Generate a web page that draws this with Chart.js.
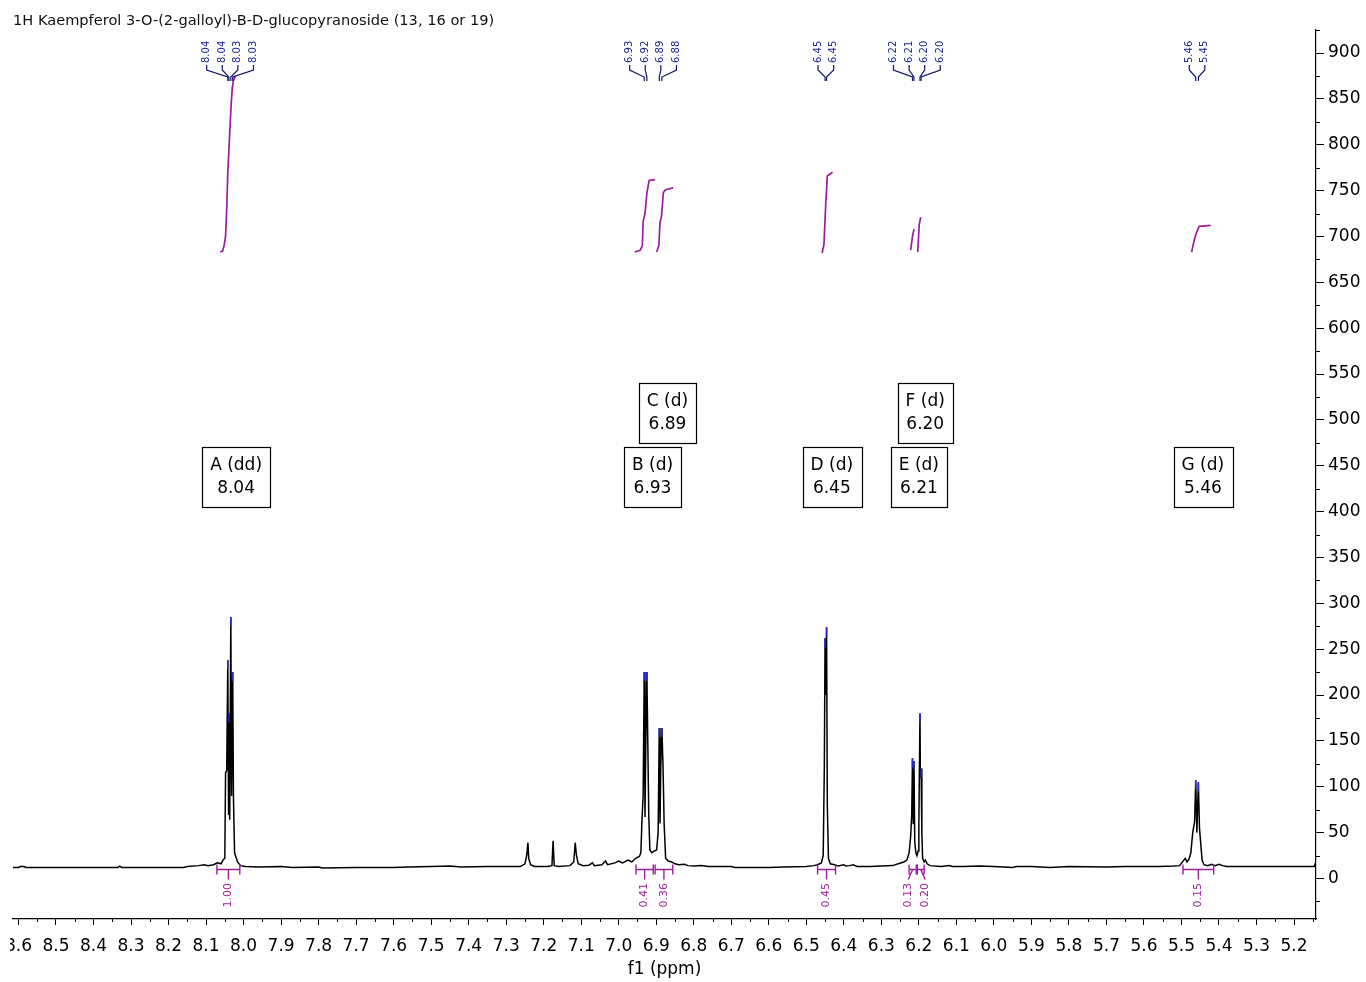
<!DOCTYPE html>
<html>
<head>
<meta charset="utf-8">
<title>1H Kaempferol 3-O-(2-galloyl)-B-D-glucopyranoside</title>
<script src="https://cdn.jsdelivr.net/npm/chart.js@4.4.1/dist/chart.umd.min.js"></script>
<style>
  html, body { margin: 0; padding: 0; background: #fff; }
  #wrap { position: absolute; left: 10px; top: 0; width: 1356px; height: 982px; overflow: hidden; }
  #nmr { position: absolute; left: -10px; top: 0; }
</style>
</head>
<body>
<div id="wrap"><canvas id="nmr" width="1366" height="982"></canvas></div>
<script>
const FONT = "'DejaVu Sans', Verdana, sans-serif"
const TITLE = "1H Kaempferol 3-O-(2-galloyl)-B-D-glucopyranoside (13, 16 or 19)"

// spectrum trace (ppm, intensity)
const specPpm = [
  8.615, 8.600, 8.595, 8.585, 8.580, 8.335, 8.330, 8.325, 8.160, 8.150,
  8.120, 8.105, 8.095, 8.080, 8.070, 8.060, 8.055, 8.050, 8.048, 8.045,
  8.042, 8.040, 8.039, 8.037, 8.034, 8.032, 8.029, 8.027, 8.024, 8.016,
  8.008, 7.995, 7.960, 7.900, 7.870, 7.800, 7.790, 7.700, 7.600, 7.560,
  7.500, 7.450, 7.420, 7.350, 7.300, 7.262, 7.250, 7.245, 7.242, 7.240,
  7.235, 7.225, 7.190, 7.178, 7.175, 7.172, 7.160, 7.130, 7.120, 7.116,
  7.113, 7.108, 7.095, 7.080, 7.070, 7.065, 7.045, 7.035, 7.030, 7.010,
  7.000, 6.990, 6.975, 6.965, 6.955, 6.945, 6.941, 6.938, 6.935, 6.932,
  6.930, 6.928, 6.925, 6.922, 6.920, 6.917, 6.912, 6.905, 6.899, 6.895,
  6.892, 6.890, 6.888, 6.885, 6.882, 6.879, 6.875, 6.868, 6.859, 6.850,
  6.840, 6.825, 6.815, 6.800, 6.780, 6.760, 6.700, 6.690, 6.600, 6.560,
  6.500, 6.480, 6.470, 6.460, 6.455, 6.452, 6.450, 6.448, 6.446, 6.444,
  6.441, 6.436, 6.425, 6.415, 6.400, 6.395, 6.385, 6.375, 6.365, 6.330,
  6.300, 6.270, 6.255, 6.240, 6.232, 6.226, 6.222, 6.219, 6.217, 6.215,
  6.213, 6.211, 6.208, 6.205, 6.202, 6.200, 6.197, 6.196, 6.194, 6.192,
  6.190, 6.186, 6.183, 6.178, 6.170, 6.140, 6.120, 6.110, 6.080, 6.040,
  6.000, 5.950, 5.940, 5.900, 5.850, 5.800, 5.700, 5.650, 5.600, 5.560,
  5.520, 5.505, 5.490, 5.485, 5.480, 5.475, 5.470, 5.465, 5.462, 5.459,
  5.455, 5.452, 5.448, 5.445, 5.440, 5.430, 5.420, 5.410, 5.400, 5.390,
  5.380, 5.300, 5.200, 5.146, 5.143
]
const specInt = [
  12, 12, 13, 13, 12, 12, 13.5, 12, 12, 13,
  14, 15, 14, 15, 17, 16, 20, 22, 115, 118,
  238, 70, 180, 64, 285, 90, 225, 89, 28, 18,
  14, 13, 12.5, 13, 12, 12.5, 11.5, 12, 12, 12.5,
  13, 13.5, 12.5, 13, 13, 13, 16, 26, 39, 22,
  15, 13, 13, 14, 41, 14, 13, 14, 18, 39,
  26, 16, 14, 14.5, 17, 14, 15, 19, 15, 17,
  19, 17, 20, 18, 22, 24, 28, 64, 90, 225,
  67, 140, 225, 132, 70, 31, 28, 30, 31, 50,
  164, 60, 120, 164, 124, 60, 22, 19, 18, 16,
  15, 15.5, 14, 13.5, 14, 13, 13, 12, 12, 12.5,
  13, 14, 15, 17, 25, 120, 262, 200, 274, 80,
  22, 16, 15, 13.5, 15, 13.5, 14, 15, 13, 13,
  13.5, 14, 16, 18, 20, 28, 45, 70, 131, 60,
  128, 40, 28, 25, 30, 60, 180, 110, 120, 50,
  22, 18, 20, 16, 14, 13, 14, 13, 13, 13.5,
  13, 12, 13, 13, 12, 13, 12.5, 13, 13, 13,
  13.5, 14, 22, 18, 21, 28, 50, 62, 107, 50,
  105, 55, 35, 20, 15, 14, 15.5, 14, 15.5, 14,
  13, 13, 13, 13, 17
]

// integral curves
const intAPpm = [8.062, 8.056, 8.052, 8.048, 8.045, 8.042, 8.039, 8.036, 8.033, 8.030, 8.027, 8.024, 8.021]
const intAVal = [683, 684, 690, 700, 730, 770, 795, 820, 845, 862, 870, 873, 874]
const intBPpm = [6.957, 6.943, 6.937, 6.935, 6.930, 6.925, 6.919, 6.903]
const intBVal = [683, 685, 690, 716, 725, 747, 761, 762]
const intCPpm = [6.899, 6.893, 6.890, 6.886, 6.881, 6.875, 6.855]
const intCVal = [683, 690, 715, 722, 748, 751, 753]
const intDPpm = [6.458, 6.453, 6.448, 6.444, 6.430]
const intDVal = [682, 691, 737, 766, 770]
const intEPpm = [6.222, 6.217, 6.213]
const intEVal = [685, 700, 708]
const intFPpm = [6.203, 6.199, 6.195]
const intFVal = [683, 713, 721]
const intGPpm = [5.473, 5.466, 5.460, 5.453, 5.422]
const intGVal = [683, 696, 704, 711, 712]

// picked peaks, grouped as printed at the top
const multLabels = [
  ["8.04", "8.04", "8.03", "8.03"],
  ["6.93", "6.92", "6.89", "6.88"],
  ["6.45", "6.45"],
  ["6.22", "6.21", "6.20", "6.20"],
  ["5.46", "5.45"]
]
const multPeaks = [
  [8.042, 8.039, 8.034, 8.029],
  [6.932, 6.925, 6.892, 6.885],
  [6.450, 6.446],
  [6.217, 6.213, 6.197, 6.194],
  [5.462, 5.455]
]

// multiplet boxes
const boxNames = ["A (dd)", "B (d)", "C (d)", "D (d)", "E (d)", "F (d)", "G (d)"]
const boxShifts = ["8.04", "6.93", "6.89", "6.45", "6.21", "6.20", "5.46"]
const boxPpm = [8.020, 6.910, 6.870, 6.432, 6.200, 6.183, 5.443]
const boxLevel = [438, 438, 508, 438, 438, 508, 438]

// integration ranges
const intFrom = [8.071, 6.954, 6.903, 6.470, 6.226, 6.204, 5.496]
const intTo = [8.010, 6.908, 6.856, 6.422, 6.207, 6.186, 5.414]
const intValues = ["1.00", "0.41", "0.36", "0.45", "0.13", "0.20", "0.15"]

const INT_COLOR = "#9a1f9a"
const LABEL_COLOR = "#1c2694"

function toPoints(xs, ys) {
  return xs.map((x, i) => ({ x: x, y: ys[i] }))
}

function integralSet(xs, ys) {
  return {
    data: toPoints(xs, ys),
    showLine: true,
    borderColor: INT_COLOR,
    borderWidth: 1.7,
    pointRadius: 0,
    tension: 0
  }
}

const extras = {
  id: "nmrExtras",
  afterDraw(chart) {
    const ctx = chart.ctx
    const xs = chart.scales.x
    const ys = chart.scales.y
    const area = chart.chartArea
    ctx.save()

    // minor ticks
    ctx.strokeStyle = "#000"
    ctx.lineWidth = 1
    ctx.beginPath()
    for (let i = Math.ceil(xs.min * 20); i <= Math.floor(xs.max * 20); i++) {
      if (i % 2 === 0) continue
      const px = Math.round(xs.getPixelForValue(i / 20)) + 0.5
      ctx.moveTo(px, xs.top)
      ctx.lineTo(px, xs.top + 3)
    }
    for (let i = Math.ceil(ys.min / 25); i <= Math.floor(ys.max / 25); i++) {
      if (i % 2 === 0) continue
      const py = Math.round(ys.getPixelForValue(i * 25)) + 0.5
      ctx.moveTo(ys.left, py)
      ctx.lineTo(ys.left + 4, py)
    }
    ctx.stroke()

    // blue tips on picked peaks
    ctx.strokeStyle = "#2b2bd0"
    ctx.lineWidth = 1.5
    ctx.beginPath()
    multPeaks.flat().forEach((p) => {
      const idx = specPpm.indexOf(p)
      if (idx < 0) return
      const px = xs.getPixelForValue(p)
      const py = ys.getPixelForValue(specInt[idx])
      ctx.moveTo(px, py)
      ctx.lineTo(px, py + 9)
    })
    ctx.stroke()

    // peak labels at the top
    ctx.font = "10px " + FONT
    ctx.fillStyle = LABEL_COLOR
    ctx.strokeStyle = "#141470"
    ctx.lineWidth = 1.2
    const textBottom = area.top + 33
    multPeaks.forEach((group, g) => {
      const pix = group.map((p) => xs.getPixelForValue(p))
      const center = pix.reduce((a, b) => a + b, 0) / pix.length
      pix.forEach((px, i) => {
        const lx = center + (i - (pix.length - 1) / 2) * 15.6
        ctx.save()
        ctx.translate(lx, textBottom)
        ctx.rotate(-Math.PI / 2)
        ctx.textAlign = "left"
        ctx.textBaseline = "middle"
        ctx.fillText(multLabels[g][i], 0, 0)
        ctx.restore()
        ctx.beginPath()
        ctx.moveTo(lx, textBottom + 2)
        ctx.lineTo(lx, textBottom + 7)
        ctx.lineTo(px, textBottom + 14)
        ctx.lineTo(px, textBottom + 18)
        ctx.stroke()
      })
    })

    // multiplet boxes
    ctx.font = "17px " + FONT
    ctx.textAlign = "center"
    ctx.textBaseline = "middle"
    boxNames.forEach((name, i) => {
      const cx = xs.getPixelForValue(boxPpm[i])
      const cy = ys.getPixelForValue(boxLevel[i])
      const w = Math.max(ctx.measureText(name).width, ctx.measureText(boxShifts[i]).width) + 16
      const h = 60
      const bx = Math.round(cx - w / 2) + 0.5
      const by = Math.round(cy - h / 2) + 0.5
      ctx.fillStyle = "#fff"
      ctx.fillRect(bx, by, w, h)
      ctx.strokeStyle = "#000"
      ctx.lineWidth = 1.2
      ctx.strokeRect(bx, by, Math.round(w), h)
      ctx.fillStyle = "#000"
      ctx.fillText(name, cx, cy - 11)
      ctx.fillText(boxShifts[i], cx, cy + 12)
    })

    // integration brackets and values
    const by = Math.round(ys.getPixelForValue(10)) + 0.5
    const centers = intFrom.map((f, i) => (xs.getPixelForValue(f) + xs.getPixelForValue(intTo[i])) / 2)
    const labelX = centers.slice()
    for (let i = 1; i < labelX.length; i++) {
      const gap = labelX[i] - labelX[i - 1]
      if (gap < 17) {
        const push = (17 - gap) / 2
        labelX[i - 1] -= push
        labelX[i] += push
      }
    }
    ctx.strokeStyle = INT_COLOR
    ctx.fillStyle = INT_COLOR
    ctx.lineWidth = 1.4
    ctx.font = "11px " + FONT
    intFrom.forEach((f, i) => {
      const x1 = xs.getPixelForValue(f)
      const x2 = xs.getPixelForValue(intTo[i])
      ctx.beginPath()
      ctx.moveTo(x1, by)
      ctx.lineTo(x2, by)
      ctx.moveTo(x1, by - 5)
      ctx.lineTo(x1, by + 5)
      ctx.moveTo(x2, by - 5)
      ctx.lineTo(x2, by + 5)
      ctx.moveTo(centers[i], by)
      ctx.lineTo(labelX[i], by + 10)
      ctx.stroke()
      ctx.save()
      ctx.translate(labelX[i], by + 38)
      ctx.rotate(-Math.PI / 2)
      ctx.textAlign = "left"
      ctx.textBaseline = "middle"
      ctx.fillText(intValues[i], 0, 0)
      ctx.restore()
    })

    ctx.restore()
  }
}

function initializeChart() {
  const canvas = document.getElementById("nmr")
  new Chart(canvas.getContext("2d"), {
    type: "scatter",
    data: {
      datasets: [
        {
          data: toPoints(specPpm, specInt),
          showLine: true,
          borderColor: "#000",
          borderWidth: 1.5,
          pointRadius: 0,
          tension: 0
        },
        integralSet(intAPpm, intAVal),
        integralSet(intBPpm, intBVal),
        integralSet(intCPpm, intCVal),
        integralSet(intDPpm, intDVal),
        integralSet(intEPpm, intEVal),
        integralSet(intFPpm, intFVal),
        integralSet(intGPpm, intGVal)
      ]
    },
    options: {
      responsive: false,
      animation: false,
      devicePixelRatio: 1,
      layout: { padding: { left: 13, right: 0, top: 0, bottom: 0 } },
      plugins: {
        legend: { display: false },
        tooltip: { enabled: false },
        title: {
          display: true,
          text: TITLE,
          align: "start",
          color: "#111",
          font: { family: FONT, size: 14.6, weight: "normal" },
          padding: { top: 12.2, bottom: 0.3 }
        }
      },
      scales: {
        x: {
          type: "linear",
          reverse: true,
          min: 5.1414,
          max: 8.6146,
          border: { color: "#000", width: 1.2 },
          grid: { drawOnChartArea: false, color: "#000", tickLength: 6 },
          ticks: {
            stepSize: 0.1,
            includeBounds: false,
            autoSkip: false,
            maxRotation: 0,
            color: "#000",
            padding: 11,
            font: { family: FONT, size: 17 },
            callback: (v) => Number(v).toFixed(1)
          },
          title: {
            display: true,
            text: "f1 (ppm)",
            color: "#000",
            font: { family: FONT, size: 17 },
            padding: { top: 0, bottom: 2 }
          },
          afterFit: (scale) => {
            scale.height = 63
            scale.paddingLeft = 0
            scale.paddingRight = 0
          }
        },
        y: {
          type: "linear",
          position: "right",
          min: -44.2,
          max: 925.1,
          border: { color: "#000", width: 1.2 },
          grid: { drawOnChartArea: false, color: "#000", tickLength: 8 },
          ticks: {
            stepSize: 50,
            includeBounds: false,
            color: "#000",
            padding: 4,
            font: { family: FONT, size: 17 }
          },
          afterFit: (scale) => {
            scale.width = 50
            scale.paddingTop = 0
            scale.paddingBottom = 0
          }
        }
      }
    },
    plugins: [extras]
  })
}

document.addEventListener("DOMContentLoaded", () => {
  initializeChart()
})
</script>
</body>
</html>
